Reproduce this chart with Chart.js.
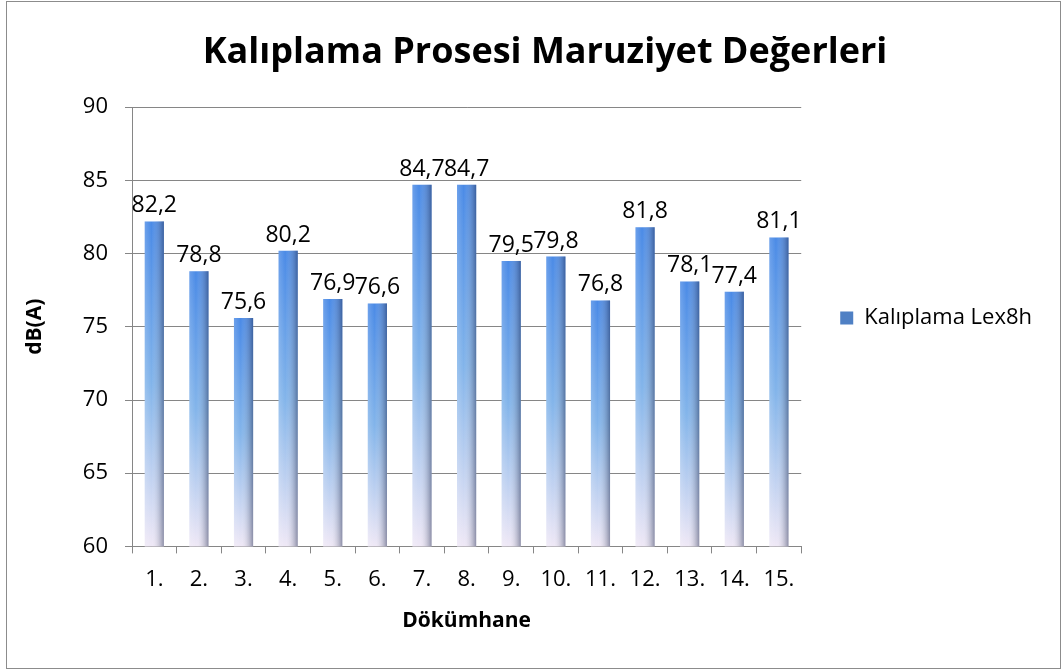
<!DOCTYPE html>
<html><head><meta charset="utf-8">
<script src="https://cdn.jsdelivr.net/npm/chart.js@4"></script>
<style>
html,body{margin:0;padding:0;background:#fff;}
#box{position:absolute;left:6px;top:1px;width:1053px;height:666px;border:1px solid #8c8c8c;background:#fff;}
canvas{display:block;}
</style></head><body>
<div id="box"><canvas id="c" width="1053" height="666"></canvas></div>
<script>
const categories = ["1.","2.","3.","4.","5.","6.","7.","8.","9.","10.","11.","12.","13.","14.","15."];
const values = [82.2,78.8,75.6,80.2,76.9,76.6,84.7,84.7,79.5,79.8,76.8,81.8,78.1,77.4,81.1];
const seriesName = "Kalıplama Lex8h";
const yTicks = [60,65,70,75,80,85,90];
const titleText = "Kalıplama Prosesi Maruziyet Değerleri";
const xTitle = "Dökümhane";
const yTitle = "dB(A)";
const FONT = "'Open Sans', 'Noto Sans', sans-serif";

function fmt(v){ return v.toFixed(1).replace('.', ','); }

const shadePlugin = {
  id:'shade',
  afterDatasetsDraw(chart){
    const ctx = chart.ctx;
    const meta = chart.getDatasetMeta(0);
    const base = chart.scales.y.getPixelForValue(chart.scales.y.min);
    meta.data.forEach((bar)=>{
      const l = bar.x - bar.width/2, r = bar.x + bar.width/2;
      const g = ctx.createLinearGradient(l,0,r,0);
      g.addColorStop(0,'rgba(255,255,255,0.18)');
      g.addColorStop(0.35,'rgba(255,255,255,0.0)');
      g.addColorStop(1,'rgba(35,45,80,0.48)');
      ctx.save();
      ctx.fillStyle = g;
      ctx.fillRect(l, bar.y, bar.width, base - bar.y);
      ctx.restore();
    });
  },
  afterDraw(chart){
    const ctx = chart.ctx;
    const meta = chart.getDatasetMeta(0);
    ctx.save();
    ctx.font = "23px " + FONT;
    ctx.fillStyle = "#000";
    ctx.textAlign = "center";
    ctx.textBaseline = "alphabetic";
    meta.data.forEach((bar,i)=>{
      ctx.fillText(fmt(values[i]), bar.x, bar.y - 9);
    });
    ctx.restore();
  }
};

const ctx = document.getElementById('c').getContext('2d');
new Chart(ctx,{
  type:'bar',
  data:{
    labels:categories,
    datasets:[{
      label:seriesName,
      data:values,
      backgroundColor:(c)=>{
        const a = c.chart.chartArea;
        const ys = c.chart.scales.y;
        if(!a || !ys || c.raw === undefined) return '#4a86d8';
        const top = ys.getPixelForValue(c.raw);
        const bot = ys.getPixelForValue(ys.min);
        if(!isFinite(top) || !isFinite(bot) || bot - top < 1) return '#4a86d8';
        const g = c.chart.ctx.createLinearGradient(0,top,0,bot);
        g.addColorStop(0,'#4a8ae6');
        g.addColorStop(0.5,'#82b4ea');
        g.addColorStop(1,'#efe8f6');
        return g;
      },
      borderWidth:0,
      categoryPercentage:1.0,
      barPercentage:0.43
    }]
  },
  options:{
    responsive:false,
    animation:false,
    layout:{padding:{left:41,right:18,top:0,bottom:34}},
    plugins:{
      title:{display:true,text:titleText,font:{family:FONT,size:36,weight:'bold'},color:'#000',padding:{top:29,bottom:33}},
      legend:{position:'right',labels:{font:{family:FONT,size:22},color:'#000',boxWidth:13,boxHeight:13,padding:39,
        generateLabels:(chart)=>[{text:seriesName,fillStyle:'#4f80c4',strokeStyle:'#4f80c4',lineWidth:0,datasetIndex:0}]}},
      tooltip:{enabled:false}
    },
    scales:{
      x:{
        grid:{offset:true,drawOnChartArea:false,color:'#868686',tickLength:7,tickColor:'#868686'},
        border:{color:'#868686',width:1},
        ticks:{font:{family:FONT,size:22},color:'#000',padding:13},
        title:{display:true,text:xTitle,font:{family:FONT,size:21,weight:'bold'},color:'#000',padding:{top:3,bottom:0}}
      },
      y:{
        min:60,max:90,
        afterBuildTicks:(s)=>{s.ticks = yTicks.map(v=>({value:v}));},
        afterFit:(s)=>{s.width = 84;},
        grid:{color:'#868686',tickLength:7,tickColor:'#868686'},
        border:{color:'#868686',width:1},
        ticks:{font:{family:FONT,size:22},color:'#000',padding:17},
        title:{display:true,text:yTitle,font:{family:FONT,size:21,weight:'bold'},color:'#000',padding:{top:-26,bottom:0}}
      }
    }
  },
  plugins:[shadePlugin]
});
</script>
</body></html>
